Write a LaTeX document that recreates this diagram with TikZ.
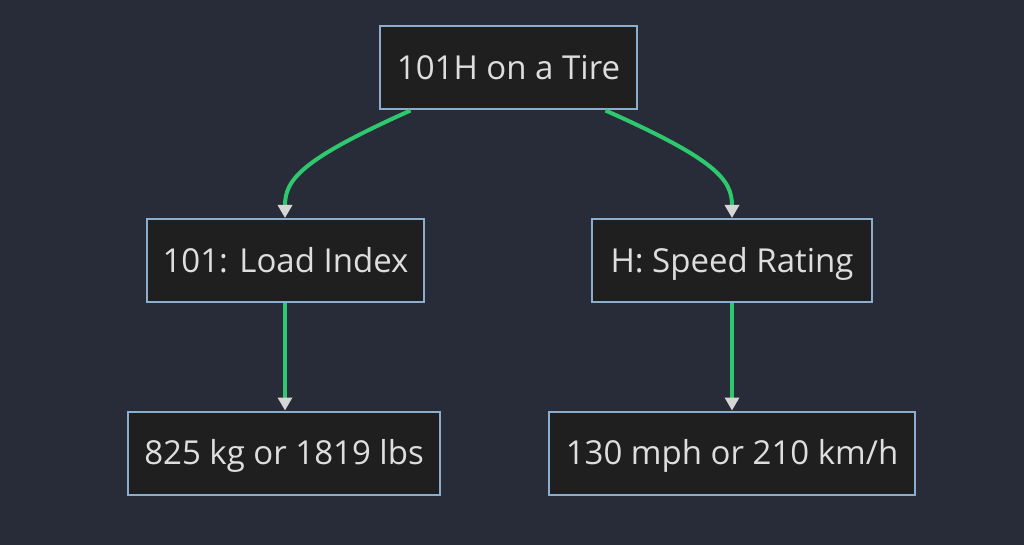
\documentclass[tikz,border=0pt]{standalone}
\usepackage{fontspec}
\setmainfont{Open Sans}
\usetikzlibrary{arrows.meta, positioning}
\definecolor{bgdark}{RGB}{40,44,56}
\definecolor{boxfill}{RGB}{31,31,31}
\definecolor{boxline}{RGB}{140,174,206}
\definecolor{boxtext}{RGB}{222,222,222}
\definecolor{linkgreen}{RGB}{46,200,110}
\definecolor{tipgray}{RGB}{214,214,214}
\tikzset{
  box/.style={draw=boxline, line width=2pt, fill=boxfill, text=boxtext,
    font=\fontsize{33}{38}\selectfont, minimum height=83pt, inner sep=0pt,
    text height=23.6pt, text depth=0pt},
  link/.style={draw=linkgreen, line width=4pt,
    -{Triangle[color=tipgray, width=14pt, length=13pt]}}
}
\begin{document}
\begin{tikzpicture}[x=1pt, y=-1pt]
    % Background
    \fill[bgdark] (0,0) rectangle (1024,545);
    \useasboundingbox (0,0) rectangle (1024,545);
    % Boxes
    \node[box, minimum width=257pt] (tire) at (508.5,68) {101H on a Tire};
    \node[box, minimum width=277pt] (load) at (285.5,260.5) {101: Load Index};
    \node[box, minimum width=280pt] (speed) at (732,260.5) {H: Speed Rating};
    \node[box, minimum width=312pt] (kg) at (284,453) {825 kg or 1819 lbs};
    \node[box, minimum width=366pt] (mph) at (732,453) {130 mph or 210 km/h};
    % Links
    \draw[link] ([xshift=-98pt]tire.south) .. controls (300,160) and (285,180) .. ([xshift=-0.5pt]load.north);
    \draw[link] ([xshift=97pt]tire.south) .. controls (717,160) and (732,180) .. (speed.north);
    \draw[link] ([xshift=-0.5pt]load.south) -- ([xshift=1pt]kg.north);
    \draw[link] (speed.south) -- (mph.north);
\end{tikzpicture}
\end{document}
